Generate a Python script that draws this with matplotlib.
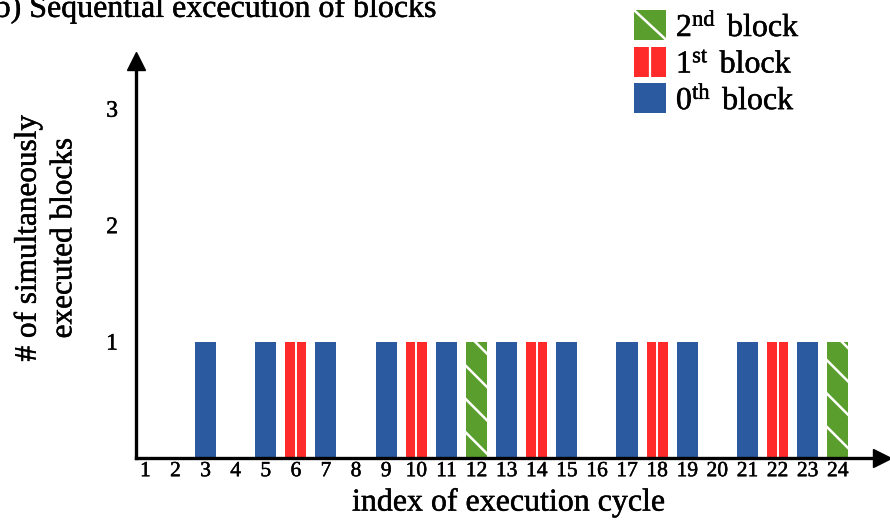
import matplotlib
matplotlib.use("Agg")
import matplotlib.pyplot as plt
import matplotlib.patheffects as pe
from matplotlib.text import Text
from matplotlib.patches import Rectangle, Patch
from matplotlib.lines import Line2D
from matplotlib.legend_handler import HandlerBase

plt.rcParams['font.family'] = ['Liberation Serif', 'DejaVu Serif']
plt.rcParams['mathtext.fontset'] = 'custom'
plt.rcParams['mathtext.rm'] = 'Liberation Serif'
plt.rcParams['mathtext.it'] = 'Liberation Serif:italic'
plt.rcParams['hatch.linewidth'] = 1.8

# ---- data ----
cycle_ticks = list(range(1, 25))
cycles_0th = [3, 5, 7, 9, 11, 13, 15, 17, 19, 21, 23]
heights_0th = [1] * len(cycles_0th)
cycles_1st = [6, 10, 14, 18, 22]
heights_1st = [1] * len(cycles_1st)
cycles_2nd = [12, 24]
heights_2nd = [1] * len(cycles_2nd)
y_ticks = [1, 2, 3]
legend_labels = [r'2$^{\mathrm{nd}}\,$ block', r'1$^{\mathrm{st}}\,$ block', r'0$^{\mathrm{th}}\,$ block']

c_blue = '#2c5aa0'
c_red = '#ff2b2b'
c_green = '#5a9e2d'

fig = plt.figure(figsize=(8.9, 5.27), dpi=100)
ax = fig.add_axes([136/890, 69/527, (882-136)/890, (466-69)/527])

bw = 0.7
ax.bar(cycles_0th, heights_0th, width=bw, color=c_blue, linewidth=0)
ax.bar(cycles_1st, heights_1st, width=bw, color=c_red, linewidth=0)
ax.vlines(cycles_1st, 0, heights_1st, color='white', linewidth=1.4)
ax.bar(cycles_2nd, heights_2nd, width=bw, color=c_green, edgecolor='white',
       linewidth=0, hatch='\\')

ax.set_xlim(0.69, 25.47)
ax.set_ylim(0, 3.41)

for s in ['top', 'right']:
    ax.spines[s].set_visible(False)
for s in ['left', 'bottom']:
    ax.spines[s].set_linewidth(2.4)
    ax.spines[s].set_zorder(5)

ax.plot(1, 0, marker='>', ms=13, color='k', transform=ax.transAxes, clip_on=False)
ax.plot(0, 1, marker='^', ms=13, color='k', transform=ax.transAxes, clip_on=False)

ax.set_xticks(cycle_ticks)
ax.set_xticklabels([str(c) for c in cycle_ticks], fontsize=15.5)
ax.set_yticks(y_ticks)
ax.set_yticklabels([str(v) for v in y_ticks], fontsize=17)
ax.tick_params(axis='x', length=0, pad=3)
ax.tick_params(axis='y', length=0, pad=13)

ax.set_xlabel('index of execution cycle', fontsize=23, labelpad=5)
fig.text(46/890, 1 - 238/527, '# of simultaneously\nexecuted blocks', fontsize=22.5,
         rotation=90, ha='center', va='center', linespacing=1.3,
         multialignment='center')

fig.text(-0.006, 0.968, 'b) Sequential excecution of blocks', fontsize=23,
         ha='left', va='baseline')


class StripeHandler(HandlerBase):
    def __init__(self, kind):
        super().__init__()
        self.kind = kind

    def create_artists(self, legend, orig_handle, xdescent, ydescent, width,
                       height, fontsize, trans):
        r = Rectangle((-xdescent, -ydescent), width, height,
                      facecolor=orig_handle.get_facecolor(), edgecolor='none',
                      transform=trans)
        arts = [r]
        if self.kind == 'diag':
            l = Line2D([-xdescent, -xdescent + width],
                       [-ydescent + height, -ydescent], color='white', lw=1.8,
                       transform=trans)
            arts.append(l)
        elif self.kind == 'vert':
            xm = -xdescent + width / 2
            l = Line2D([xm, xm], [-ydescent, -ydescent + height], color='white',
                       lw=1.6, transform=trans)
            arts.append(l)
        return arts


h2 = Patch(facecolor=c_green)
h1 = Patch(facecolor=c_red)
h0 = Patch(facecolor=c_blue)
fig.legend([h2, h1, h0], legend_labels,
           handler_map={h2: StripeHandler('diag'), h1: StripeHandler('vert'),
                       h0: StripeHandler('none')},
           loc='upper left', bbox_to_anchor=(628/890, 1 - 4/527),
           frameon=False, fontsize=23, handlelength=1.0, handleheight=1.05,
           handletextpad=0.3, labelspacing=0.12, borderaxespad=0, borderpad=0.2)

for t in fig.findobj(Text):
    t.set_path_effects([pe.withStroke(linewidth=0.35, foreground='black')])

fig.savefig('out.png', dpi=100)
